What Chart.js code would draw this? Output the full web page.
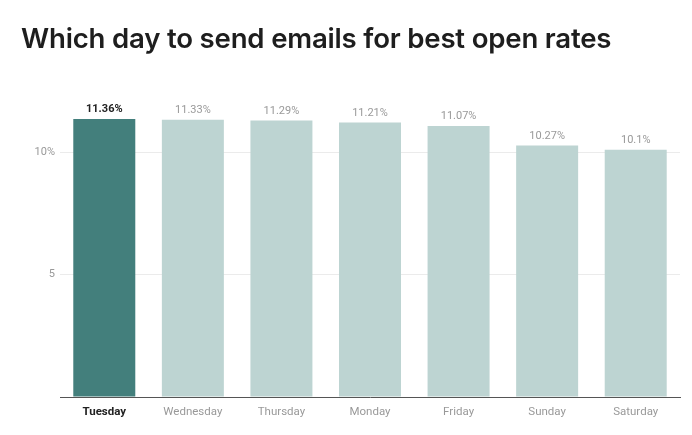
<!DOCTYPE html>
<html>
<head>
<meta charset="utf-8">
<script src="https://cdn.jsdelivr.net/npm/chart.js@4"></script>
<style>
  html,body{margin:0;padding:0;background:#fff;}
  #wrap{position:relative;width:692px;height:435px;}
  #title{position:absolute;left:21px;top:21px;font-family:Inter,"Open Sans",sans-serif;font-weight:600;font-size:27.6px;color:#1e1e1e;letter-spacing:-0.2px;white-space:nowrap;}
  #c{position:absolute;left:0;top:0;}
</style>
</head>
<body>
<div id="wrap">
  <canvas id="c" width="692" height="435"></canvas>
  <div id="title">Which day to send emails for best open rates</div>
</div>
<script>
const categories = ["Tuesday","Wednesday","Thursday","Monday","Friday","Sunday","Saturday"];
const openRates = [11.36, 11.33, 11.29, 11.21, 11.07, 10.27, 10.1];
const valueLabels = ["11.36%","11.33%","11.29%","11.21%","11.07%","10.27%","10.1%"];
const yTicks = [5, 10];
const yTickLabels = ["5", "10%"];
const highlightIndex = 0;

const darkColor = "#437f7c";
const lightColor = "#bdd4d2";

const labelPlugin = {
  id: "valueLabels",
  afterDatasetsDraw(chart) {
    const ctx = chart.ctx;
    const meta = chart.getDatasetMeta(0);
    ctx.save();
    ctx.textAlign = "center";
    ctx.textBaseline = "alphabetic";
    meta.data.forEach((bar, i) => {
      const hi = i === highlightIndex;
      ctx.font = (hi ? "bold " : "") + "11px Roboto";
      ctx.fillStyle = hi ? "#222" : "#999";
      ctx.fillText(valueLabels[i], bar.x, bar.y - 7);
    });
    ctx.restore();
  }
};

new Chart(document.getElementById("c"), {
  type: "bar",
  data: {
    labels: categories,
    datasets: [{
      data: openRates,
      backgroundColor: categories.map((_, i) => i === highlightIndex ? darkColor : lightColor),
      barPercentage: 0.7,
      categoryPercentage: 1.0
    }]
  },
  options: {
    responsive: false,
    animation: false,
    devicePixelRatio: 1,
    layout: { padding: { top: 91, right: 12, left: 0, bottom: 0 } },
    plugins: { legend: { display: false }, tooltip: { enabled: false } },
    scales: {
      x: {
        grid: { display: false, drawTicks: false },
        border: { display: true, color: "#555", width: 1 },
        ticks: {
          padding: 8,
          font: (c) => ({ family: "Roboto", size: 11.5, weight: c.index === highlightIndex ? "bold" : "normal" }),
          color: (c) => c.index === highlightIndex ? "#222" : "#999"
        },
        afterFit(s) { s.height = 38; }
      },
      y: {
        min: 0,
        max: 12.5,
        border: { display: false },
        grid: {
          drawTicks: false,
          color: (c) => yTicks.includes(c.tick.value) ? "#ebebeb" : "rgba(0,0,0,0)"
        },
        ticks: {
          stepSize: 5,
          padding: 5,
          font: { family: "Roboto", size: 11 },
          color: "#999",
          callback: (v) => { const k = yTicks.indexOf(v); return k >= 0 ? yTickLabels[k] : ""; }
        },
        afterFit(s) { s.width = 60; }
      }
    }
  },
  plugins: [labelPlugin]
});
</script>
</body>
</html>
